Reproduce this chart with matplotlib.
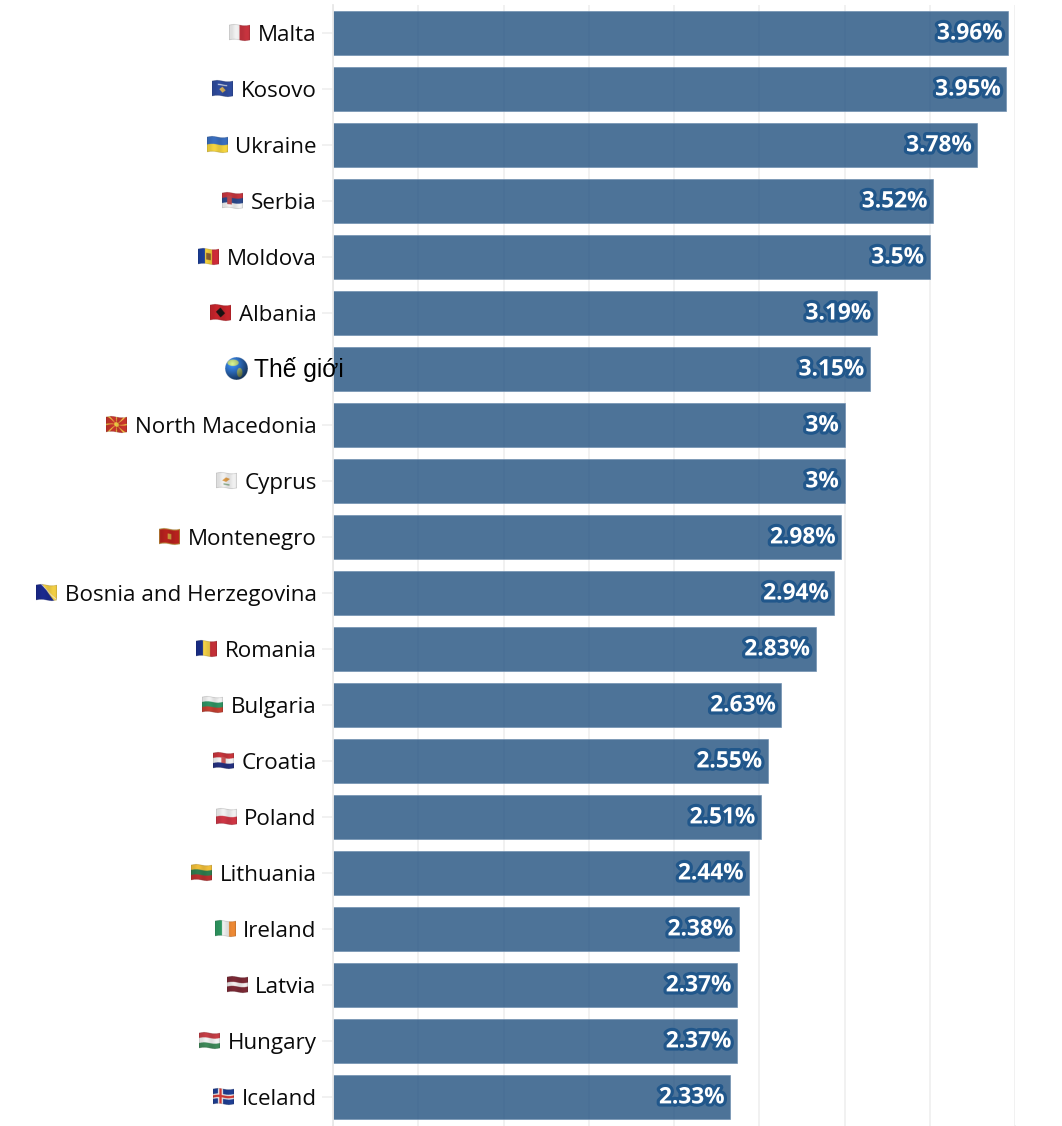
import matplotlib
matplotlib.use("Agg")
import matplotlib.pyplot as plt
import matplotlib.patheffects as pe
import numpy as np

countries = ["Malta", "Kosovo", "Ukraine", "Serbia", "Moldova", "Albania", "Thế giới",
             "North Macedonia", "Cyprus", "Montenegro", "Bosnia and Herzegovina", "Romania",
             "Bulgaria", "Croatia", "Poland", "Lithuania", "Ireland", "Latvia", "Hungary", "Iceland"]
values = [3.96, 3.95, 3.78, 3.52, 3.5, 3.19, 3.15, 3, 3, 2.98, 2.94, 2.83,
          2.63, 2.55, 2.51, 2.44, 2.38, 2.37, 2.37, 2.33]
x_ticks = [0, 0.5, 1, 1.5, 2, 2.5, 3, 3.5, 4]

W, H = 1062, 1126
BAR = "#20507f"
STROKE = "#21578b"
WORLD = "Thế giới"

plt.rcParams["font.family"] = ["Open Sans", "DejaVu Sans"]


def stripes(u, v, colors, vertical=False):
    t = u if vertical else v
    idx = np.clip((t * len(colors)).astype(int), 0, len(colors) - 1)
    return np.array([matplotlib.colors.to_rgb(c) for c in colors])[idx]


def paint(img, mask, color):
    img[mask] = matplotlib.colors.to_rgb(color)


def flag_image(name, size=(126, 114)):
    # small waving flag, drawn in unit coordinates then bent
    w, h = size
    u, v = np.meshgrid((np.arange(w) + 0.5) / w, (np.arange(h) + 0.5) / h)
    fv = (v - 0.5) / 0.8 + 0.5 + 0.045 * np.sin(u * 2 * np.pi)
    if name == "Malta":
        img = stripes(u, fv, ["#f2f2f2", "#c8343f"], vertical=True)
    elif name == "Kosovo":
        img = np.full((h, w, 3), matplotlib.colors.to_rgb("#2f4c9e"))
        paint(img, np.abs(u - 0.5) * 1.3 + np.abs(fv - 0.58) < 0.2, "#d8b25a")
        paint(img, (np.abs(fv - 0.27) < 0.04) & (np.abs(u - 0.5) < 0.22), "#c9d2e6")
    elif name == "Ukraine":
        img = stripes(u, fv, ["#3a6fc0", "#f5d53f"])
    elif name == "Serbia":
        img = stripes(u, fv, ["#c7363f", "#2c4a8e", "#f2f2f2"])
        paint(img, (np.abs(u - 0.36) < 0.11) & (np.abs(fv - 0.5) < 0.28), "#b8474c")
    elif name == "Moldova":
        img = stripes(u, fv, ["#1c3f9e", "#f6d13b", "#cf2b38"], vertical=True)
        paint(img, (np.abs(u - 0.5) < 0.11) & (np.abs(fv - 0.5) < 0.22), "#8a5f30")
    elif name == "Albania":
        img = np.full((h, w, 3), matplotlib.colors.to_rgb("#c8252c"))
        paint(img, np.abs(u - 0.5) * 1.2 + np.abs(fv - 0.5) * 0.8 < 0.26, "#1d1414")
    elif name == "North Macedonia":
        img = np.full((h, w, 3), matplotlib.colors.to_rgb("#c8352c"))
        a = np.arctan2((fv - 0.5) * 0.75, u - 0.5)
        paint(img, np.abs(np.sin(4 * a)) < 0.28, "#f2cf45")
        paint(img, (u - 0.5) ** 2 + ((fv - 0.5) * 0.75) ** 2 < 0.012, "#f2cf45")
    elif name == "Cyprus":
        img = np.full((h, w, 3), matplotlib.colors.to_rgb("#f1f1f1"))
        paint(img, np.abs(u - 0.48) * 0.8 + np.abs(fv - 0.45 + (u - 0.48) * 0.5) < 0.15, "#dd9a45")
        paint(img, (np.abs(u - 0.5) < 0.14) & (np.abs(fv - 0.76) < 0.05), "#8fae90")
    elif name == "Montenegro":
        img = np.full((h, w, 3), matplotlib.colors.to_rgb("#b8221e"))
        paint(img, (np.abs(u - 0.5) < 0.09) & (np.abs(fv - 0.5) < 0.18), "#cf9a3c")
        paint(img, (u < 0.04) | (u > 0.96) | (fv < 0.06) | (fv > 0.94), "#cf9a3c")
    elif name == "Bosnia and Herzegovina":
        img = np.full((h, w, 3), matplotlib.colors.to_rgb("#1b2a8f"))
        paint(img, (u > 0.3) & (fv < (u - 0.3) / 0.7 * 1.25), "#f3cf45")
        paint(img, (np.abs(fv - (u - 0.25) * 1.3) < 0.03), "#e8e8f2")
    elif name == "Romania":
        img = stripes(u, fv, ["#1a2f8c", "#f6d247", "#c43038"], vertical=True)
    elif name == "Bulgaria":
        img = stripes(u, fv, ["#f2f2f2", "#2f9464", "#c64032"])
    elif name == "Croatia":
        img = stripes(u, fv, ["#c8353c", "#f3f3f3", "#24307f"])
        paint(img, (np.abs(u - 0.5) < 0.1) & (np.abs(fv - 0.47) < 0.2), "#cf5a5a")
    elif name == "Poland":
        img = stripes(u, fv, ["#f1f1f1", "#cf3645"])
    elif name == "Lithuania":
        img = stripes(u, fv, ["#f1bf3a", "#2f7d4f", "#bb3030"])
    elif name == "Ireland":
        img = stripes(u, fv, ["#2f9a62", "#f2f2f2", "#ee8a35"], vertical=True)
    elif name == "Latvia":
        img = stripes(u, (fv - 0.1) / 0.8, ["#7c2a36", "#f2eeee", "#7c2a36"])
    elif name == "Hungary":
        img = stripes(u, fv, ["#c73e46", "#f2f2f2", "#3f8a5a"])
    elif name == "Iceland":
        img = np.full((h, w, 3), matplotlib.colors.to_rgb("#1f3f94"))
        paint(img, (np.abs(u - 0.36) < 0.12) | (np.abs(fv - 0.5) < 0.16), "#f0f0f0")
        paint(img, (np.abs(u - 0.36) < 0.055) | (np.abs(fv - 0.5) < 0.075), "#d23a35")
    # soft folds in the cloth, and a faint rim so pale flags still read on white
    shade = 1 - 0.08 * np.cos((u - 0.1) * 2 * np.pi) ** 2
    img = np.clip(img * shade[..., None], 0, 1)
    rim = (fv < 0.035) | (fv > 0.965) | (u < 0.02) | (u > 0.98)
    img[rim] *= 0.8
    alpha = ((fv > 0) & (fv < 1)).astype(float)
    return np.dstack([img, alpha])


def globe_image(n=144):
    u, v = np.meshgrid((np.arange(n) + 0.5) / n * 2 - 1, (np.arange(n) + 0.5) / n * 2 - 1)
    r = np.hypot(u, v)
    light = np.clip(1.3 - np.hypot(u + 0.35, v + 0.4) * 0.6, 0.35, 1.3)
    img = np.full((n, n, 3), matplotlib.colors.to_rgb("#2f74cc"))
    land = (np.hypot((u + 0.3) * 0.85, (v + 0.5) * 1.5) < 0.42) | (np.hypot((u - 0.28) * 1.6, (v - 0.35) * 0.95) < 0.38)
    land &= ~(np.hypot(u + 0.05, v - 0.02) < 0.14)
    img[land] = matplotlib.colors.to_rgb("#a8bf72")
    img = np.clip(img * light[..., None], 0, 1)
    return np.dstack([img, (r < 0.98).astype(float)])


fig = plt.figure(figsize=(W / 100, H / 100), dpi=100, facecolor="white")
ax = fig.add_axes([333 / W, 1 - 1124.7 / H, (1015 - 333) / W, (1124.7 - 4.7) / H])

y = np.arange(len(countries))
ax.barh(y, values, height=0.786, color=BAR, alpha=0.8, edgecolor="#6f8fb0", linewidth=0.6, zorder=2)
ax.set_xlim(0, 4)
ax.set_ylim(len(countries) - 0.5, -0.5)
ax.set_xticks(x_ticks)
ax.set_xticklabels([])
ax.set_yticks(y)
# the world row is set in another face further down, so its tick label stays empty
ax.set_yticklabels(["" if c == WORLD else c for c in countries], fontsize=16.1, color="#0a0a0a")
ax.tick_params(axis="y", length=8, width=1.1, color="#eeeeee", pad=3.8)
ax.tick_params(axis="x", length=1.5, width=1.1, color="#eeeeee")
ax.grid(axis="x", color="black", alpha=0.07, linewidth=1.1, zorder=3)
for s in ["top", "right", "bottom"]:
    ax.spines[s].set_visible(False)
ax.spines["left"].set_color("#e8e8e8")
ax.spines["left"].set_linewidth(1.3)

# bar-end value labels
for i, val in enumerate(values):
    ax.annotate(f"{val:g}%", (val, i), xytext=(-4.0, -0.5), textcoords="offset points",
                ha="right", va="center", fontsize=16.3, fontweight="bold", color="white", zorder=5,
                path_effects=[pe.withStroke(linewidth=4.6, foreground=STROKE)])

overlay = fig.add_axes([0, 0, 1, 1], facecolor="none")
world_i = countries.index(WORLD)
gy = H - ax.transData.transform((0, world_i))[1]
overlay.text(254, gy + 1, WORLD, family=["Liberation Sans", "DejaVu Sans"], fontsize=17.7,
             color="black", va="center", ha="left", zorder=6)
overlay.imshow(globe_image(), extent=(225, 248, gy + 11, gy - 12), interpolation="antialiased", zorder=4)

# flags sit just left of each country name
fig.canvas.draw()
renderer = fig.canvas.get_renderer()
for lab, name in zip(ax.get_yticklabels(), countries):
    if name == WORLD:
        continue
    box = lab.get_window_extent(renderer)
    cy = H - ax.transData.transform((0, countries.index(name)))[1]
    right = box.x0 - 7.5
    overlay.imshow(flag_image(name), extent=(right - 21, right, cy + 9, cy - 10),
                   interpolation="antialiased", zorder=4)
overlay.set_xlim(0, W)
overlay.set_ylim(H, 0)
overlay.set_aspect("auto")
overlay.axis("off")

fig.savefig("out.png", dpi=100)
